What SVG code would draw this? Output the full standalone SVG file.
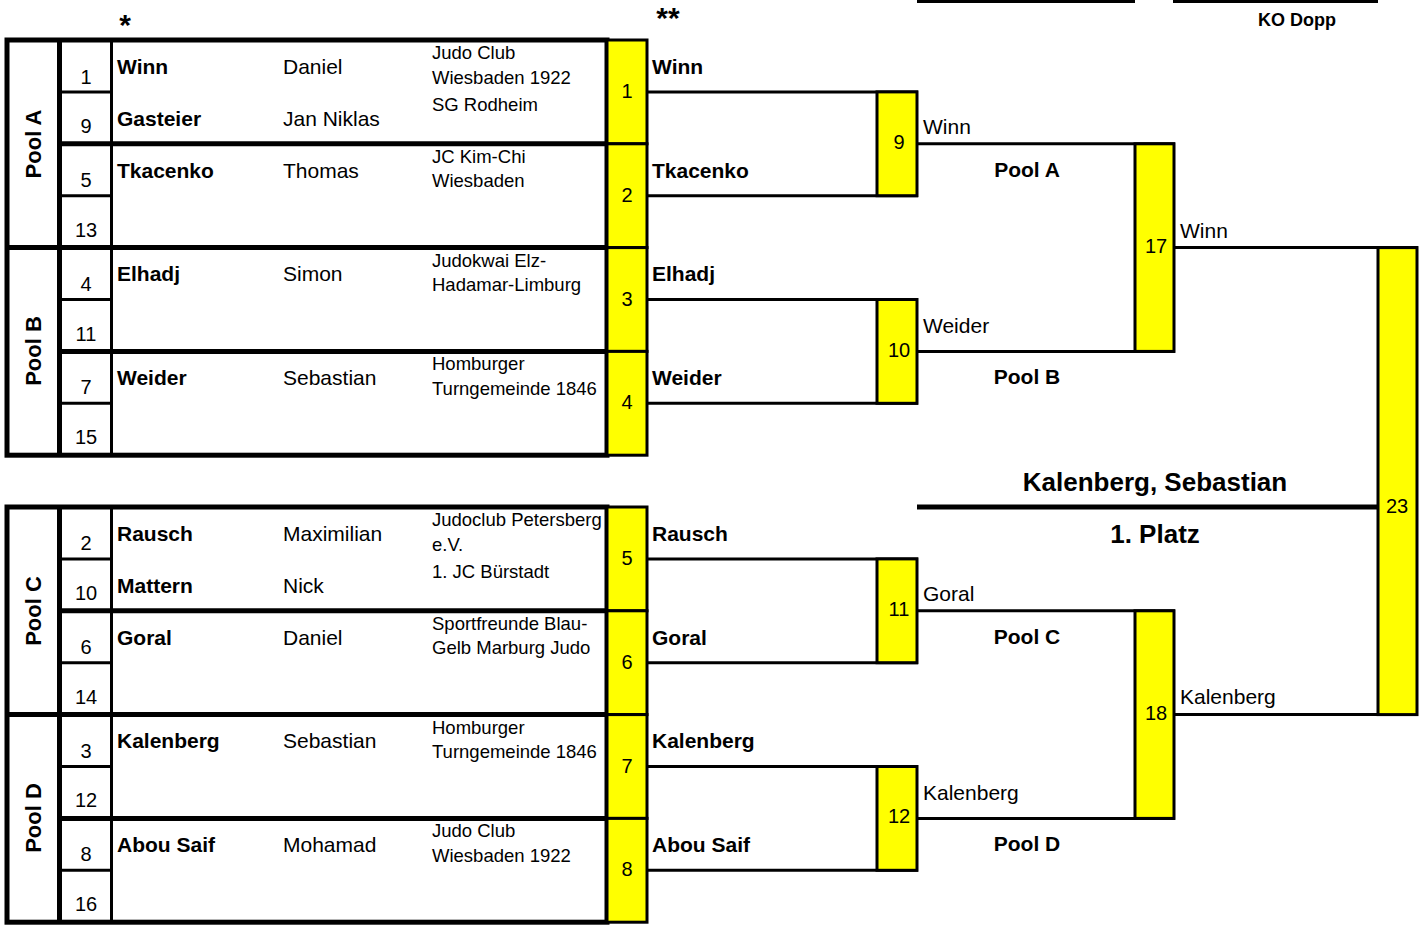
<svg xmlns="http://www.w3.org/2000/svg" width="1423" height="933" viewBox="0 0 1423 933">
<style>
text{font-family:"Liberation Sans",Arial,Helvetica,sans-serif;fill:#000}
.b{font-weight:bold;font-size:21px}
.r{font-size:21px}
.c{font-size:18.5px}
.s{font-size:20px;text-anchor:middle}
.n{font-size:20px;text-anchor:middle}
.pl{font-weight:bold;font-size:22px;text-anchor:middle}
.pb{font-weight:bold;font-size:21px;text-anchor:middle}
.big{font-weight:bold;font-size:26px;text-anchor:middle}
.star{font-weight:bold;font-size:30px;text-anchor:middle}
.thick{stroke:#000;stroke-width:5;fill:none}
.thin{stroke:#000;stroke-width:3;fill:none}
.box{fill:#ffff00;stroke:#000;stroke-width:3}
</style>
<rect width="1423" height="933" fill="#fff"/>

<g id="header">
<text class="star" x="125" y="35">*</text>
<text class="star" x="668" y="28">**</text>
<rect x="917" y="0" width="218" height="3" fill="#000"/>
<rect x="1173" y="0" width="205" height="3" fill="#000"/>
<text x="1297" y="26" style="font-weight:bold;font-size:18px" text-anchor="middle">KO Dopp</text>
</g>

<!-- Table top half -->
<g id="table-top">
<rect x="7" y="40" width="600" height="415.2" class="thick"/>
<line x1="59.5" y1="40" x2="59.5" y2="455.2" class="thick"/>
<line x1="111.5" y1="40" x2="111.5" y2="455.2" class="thin"/>
<line x1="59" y1="143.8" x2="607" y2="143.8" class="thick"/>
<line x1="5" y1="247.6" x2="607" y2="247.6" class="thick"/>
<line x1="59" y1="351.4" x2="607" y2="351.4" class="thick"/>
<line x1="59" y1="91.9" x2="112" y2="91.9" class="thin"/>
<line x1="59" y1="195.7" x2="112" y2="195.7" class="thin"/>
<line x1="59" y1="299.5" x2="112" y2="299.5" class="thin"/>
<line x1="59" y1="403.3" x2="112" y2="403.3" class="thin"/>
</g>
<g id="table-bottom">
<rect x="7" y="507" width="600" height="415.2" class="thick"/>
<line x1="59.5" y1="507" x2="59.5" y2="922.2" class="thick"/>
<line x1="111.5" y1="507" x2="111.5" y2="922.2" class="thin"/>
<line x1="59" y1="610.8" x2="607" y2="610.8" class="thick"/>
<line x1="5" y1="714.6" x2="607" y2="714.6" class="thick"/>
<line x1="59" y1="818.4" x2="607" y2="818.4" class="thick"/>
<line x1="59" y1="558.9" x2="112" y2="558.9" class="thin"/>
<line x1="59" y1="662.7" x2="112" y2="662.7" class="thin"/>
<line x1="59" y1="766.5" x2="112" y2="766.5" class="thin"/>
<line x1="59" y1="870.3" x2="112" y2="870.3" class="thin"/>
</g>

<g id="pool-labels">
<text class="pl" transform="translate(41,144) rotate(-90)">Pool A</text>
<text class="pl" transform="translate(41,351) rotate(-90)">Pool B</text>
<text class="pl" transform="translate(41,611) rotate(-90)">Pool C</text>
<text class="pl" transform="translate(41,818) rotate(-90)">Pool D</text>
</g>

<!-- Seeds -->
<g id="seeds">
<text class="s" x="86" y="84">1</text>
<text class="s" x="86" y="133">9</text>
<text class="s" x="86" y="187">5</text>
<text class="s" x="86" y="237">13</text>
<text class="s" x="86" y="291">4</text>
<text class="s" x="86" y="341">11</text>
<text class="s" x="86" y="394">7</text>
<text class="s" x="86" y="444">15</text>
<text class="s" x="86" y="550">2</text>
<text class="s" x="86" y="600">10</text>
<text class="s" x="86" y="654">6</text>
<text class="s" x="86" y="704">14</text>
<text class="s" x="86" y="758">3</text>
<text class="s" x="86" y="807">12</text>
<text class="s" x="86" y="861">8</text>
<text class="s" x="86" y="911">16</text>
</g>

<g id="p-winn"><text class="b" x="117" y="74">Winn</text><text class="r" x="283" y="74">Daniel</text><text class="c" x="432" y="59">Judo Club</text><text class="c" x="432" y="84">Wiesbaden 1922</text></g>
<g id="p-gasteier"><text class="b" x="117" y="126">Gasteier</text><text class="r" x="283" y="126">Jan Niklas</text><text class="c" x="432" y="111">SG Rodheim</text></g>
<g id="p-tkacenko"><text class="b" x="117" y="178">Tkacenko</text><text class="r" x="283" y="178">Thomas</text><text class="c" x="432" y="163">JC Kim-Chi</text><text class="c" x="432" y="187">Wiesbaden</text></g>
<g id="p-elhadj"><text class="b" x="117" y="281">Elhadj</text><text class="r" x="283" y="281">Simon</text><text class="c" x="432" y="267">Judokwai Elz-</text><text class="c" x="432" y="291">Hadamar-Limburg</text></g>
<g id="p-weider"><text class="b" x="117" y="385">Weider</text><text class="r" x="283" y="385">Sebastian</text><text class="c" x="432" y="370">Homburger</text><text class="c" x="432" y="395">Turngemeinde 1846</text></g>
<g id="p-rausch"><text class="b" x="117" y="541">Rausch</text><text class="r" x="283" y="541">Maximilian</text><text class="c" x="432" y="526">Judoclub Petersberg</text><text class="c" x="432" y="551">e.V.</text></g>
<g id="p-mattern"><text class="b" x="117" y="593">Mattern</text><text class="r" x="283" y="593">Nick</text><text class="c" x="432" y="578">1. JC Bürstadt</text></g>
<g id="p-goral"><text class="b" x="117" y="645">Goral</text><text class="r" x="283" y="645">Daniel</text><text class="c" x="432" y="630">Sportfreunde Blau-</text><text class="c" x="432" y="654">Gelb Marburg Judo</text></g>
<g id="p-kalenberg"><text class="b" x="117" y="748">Kalenberg</text><text class="r" x="283" y="748">Sebastian</text><text class="c" x="432" y="734">Homburger</text><text class="c" x="432" y="758">Turngemeinde 1846</text></g>
<g id="p-abousaif"><text class="b" x="117" y="852">Abou Saif</text><text class="r" x="283" y="852">Mohamad</text><text class="c" x="432" y="837">Judo Club</text><text class="c" x="432" y="862">Wiesbaden 1922</text></g>

<!-- Connectors -->
<g id="connectors" class="thin">
<line x1="647" y1="91.9" x2="918" y2="91.9"/>
<line x1="647" y1="195.7" x2="918" y2="195.7"/>
<line x1="647" y1="299.5" x2="918" y2="299.5"/>
<line x1="647" y1="403.3" x2="918" y2="403.3"/>
<line x1="647" y1="558.9" x2="918" y2="558.9"/>
<line x1="647" y1="662.7" x2="918" y2="662.7"/>
<line x1="647" y1="766.5" x2="918" y2="766.5"/>
<line x1="647" y1="870.3" x2="918" y2="870.3"/>
<line x1="917" y1="143.8" x2="1175" y2="143.8"/>
<line x1="917" y1="351.4" x2="1175" y2="351.4"/>
<line x1="917" y1="610.8" x2="1175" y2="610.8"/>
<line x1="917" y1="818.4" x2="1175" y2="818.4"/>
<line x1="1174" y1="247.6" x2="1418" y2="247.6"/>
<line x1="1174" y1="714.6" x2="1418" y2="714.6"/>
<line x1="917" y1="507" x2="1377" y2="507" style="stroke-width:5"/>
</g>

<!-- Match boxes -->
<g id="m1"><rect class="box" x="607" y="40" width="40" height="103.8"/><text class="n" x="627" y="98">1</text></g>
<g id="m2"><rect class="box" x="607" y="143.8" width="40" height="103.8"/><text class="n" x="627" y="202">2</text></g>
<g id="m3"><rect class="box" x="607" y="247.6" width="40" height="103.8"/><text class="n" x="627" y="306">3</text></g>
<g id="m4"><rect class="box" x="607" y="351.4" width="40" height="103.8"/><text class="n" x="627" y="409">4</text></g>
<g id="m5"><rect class="box" x="607" y="507" width="40" height="103.8"/><text class="n" x="627" y="565">5</text></g>
<g id="m6"><rect class="box" x="607" y="610.8" width="40" height="103.8"/><text class="n" x="627" y="669">6</text></g>
<g id="m7"><rect class="box" x="607" y="714.6" width="40" height="103.8"/><text class="n" x="627" y="773">7</text></g>
<g id="m8"><rect class="box" x="607" y="818.4" width="40" height="103.8"/><text class="n" x="627" y="876">8</text></g>
<g id="m9"><rect class="box" x="877" y="91.9" width="40" height="103.8"/><text class="n" x="899" y="149">9</text></g>
<g id="m10"><rect class="box" x="877" y="299.5" width="40" height="103.8"/><text class="n" x="899" y="357">10</text></g>
<g id="m11"><rect class="box" x="877" y="558.9" width="40" height="103.8"/><text class="n" x="899" y="616">11</text></g>
<g id="m12"><rect class="box" x="877" y="766.5" width="40" height="103.8"/><text class="n" x="899" y="823">12</text></g>
<g id="m17"><rect class="box" x="1135" y="143.8" width="39" height="207.6"/><text class="n" x="1156" y="253">17</text></g>
<g id="m18"><rect class="box" x="1135" y="610.8" width="39" height="207.6"/><text class="n" x="1156" y="720">18</text></g>
<g id="m23"><rect class="box" x="1378" y="247.6" width="39" height="467"/><text class="n" x="1397" y="513">23</text></g>

<!-- Bracket labels -->
<g id="labels">
<text class="b" x="652" y="74">Winn</text>
<text class="b" x="652" y="178">Tkacenko</text>
<text class="b" x="652" y="281">Elhadj</text>
<text class="b" x="652" y="385">Weider</text>
<text class="b" x="652" y="541">Rausch</text>
<text class="b" x="652" y="645">Goral</text>
<text class="b" x="652" y="748">Kalenberg</text>
<text class="b" x="652" y="852">Abou Saif</text>
<text class="r" x="923" y="134">Winn</text>
<text class="r" x="923" y="333">Weider</text>
<text class="r" x="923" y="601">Goral</text>
<text class="r" x="923" y="800">Kalenberg</text>
<text class="r" x="1180" y="238">Winn</text>
<text class="r" x="1180" y="704">Kalenberg</text>
<text class="pb" x="1027" y="177">Pool A</text>
<text class="pb" x="1027" y="384">Pool B</text>
<text class="pb" x="1027" y="644">Pool C</text>
<text class="pb" x="1027" y="851">Pool D</text>
<text class="big" x="1155" y="491">Kalenberg, Sebastian</text>
<text class="big" x="1155" y="543">1. Platz</text>
</g>
</svg>
